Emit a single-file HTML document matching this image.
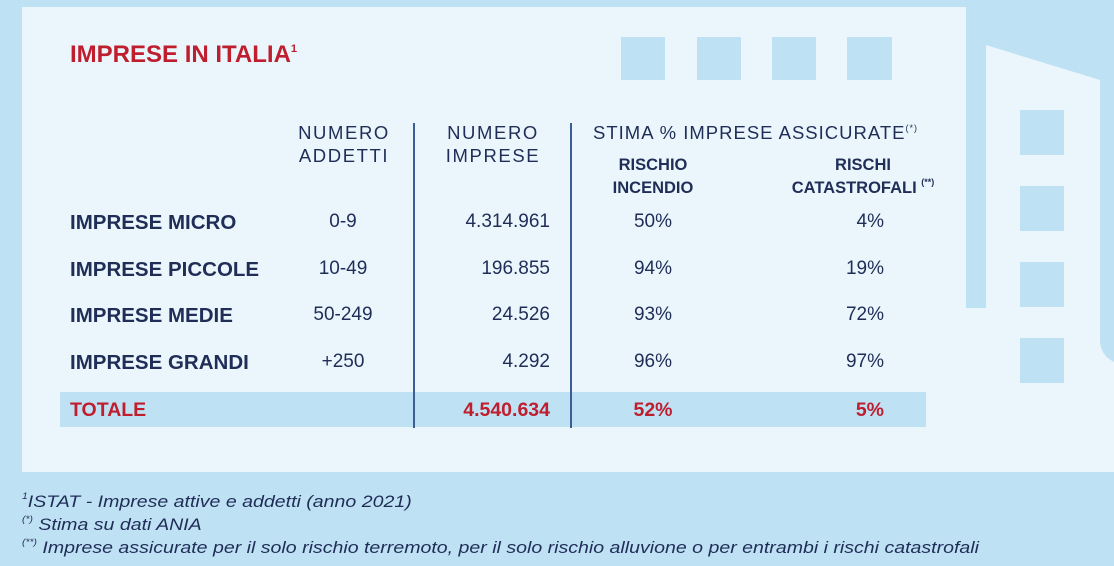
<!DOCTYPE html>
<html><head><meta charset="utf-8"><style>
*{margin:0;padding:0;box-sizing:border-box}
body{width:1114px;height:566px;background:#bfe1f4;position:relative;overflow:hidden;font-family:"Liberation Sans",sans-serif;color:#1f2d57}
.a{position:absolute;white-space:nowrap}
.w{position:absolute;background:#bfe1f4}
.h{font-size:18.5px;letter-spacing:1.6px;line-height:23px}
.b{font-weight:bold;font-size:20.5px}
.v{font-size:19px}
.r{color:#bf1e2e;font-weight:bold;font-size:19.5px}
.f{font-style:italic;font-size:17px;transform:scaleX(1.15);transform-origin:left}
sup{font-size:9px;position:relative;top:-8px;vertical-align:baseline;line-height:0}
</style></head><body>
<div class="a" style="left:22px;top:7px;width:944px;height:465px;background:#eaf6fc"></div>
<svg class="a" style="left:0;top:0" width="1114" height="566"><path d="M986,45 L1100,80 L1100,340 Q1100,355 1114,362 L1114,472 L966,472 L966,308 L986,308 Z" fill="#eaf6fc"/></svg>
<div class="w" style="left:621px;top:37px;width:44px;height:43px"></div>
<div class="w" style="left:697px;top:37px;width:44px;height:43px"></div>
<div class="w" style="left:772px;top:37px;width:44px;height:43px"></div>
<div class="w" style="left:847px;top:37px;width:45px;height:43px"></div>
<div class="w" style="left:1020px;top:110px;width:44px;height:45px"></div>
<div class="w" style="left:1020px;top:186px;width:44px;height:45px"></div>
<div class="w" style="left:1020px;top:262px;width:44px;height:45px"></div>
<div class="w" style="left:1020px;top:338px;width:44px;height:45px"></div>
<div class="a" style="left:60px;top:392px;width:866px;height:35px;background:#bfe1f4"></div>
<div class="a" style="left:413px;top:123px;width:2px;height:305px;background:#3b5f93"></div>
<div class="a" style="left:570px;top:123px;width:2px;height:305px;background:#3b5f93"></div>
<div class="a" style="left:70px;top:41px;font-size:24px;font-weight:bold;color:#bf1e2e">IMPRESE IN ITALIA<sup style="font-size:11px;top:-10px">1</sup></div>
<div class="a h" style="left:290px;top:121px;width:108px;text-align:center">NUMERO<br>ADDETTI</div>
<div class="a h" style="left:437px;top:121px;width:112px;text-align:center">NUMERO<br>IMPRESE</div>
<div class="a h" style="left:593px;top:121px;letter-spacing:1px">STIMA % IMPRESE ASSICURATE<sup>(*)</sup></div>
<div class="a" style="left:593px;top:154px;width:120px;text-align:center;font-weight:bold;font-size:16.5px;line-height:23px">RISCHIO<br>INCENDIO</div>
<div class="a" style="left:778px;top:154px;width:170px;text-align:center;font-weight:bold;font-size:16.5px;line-height:23px">RISCHI<br>CATASTROFALI <sup>(**)</sup></div>
<div class="a b" style="left:70px;top:211px">IMPRESE MICRO</div>
<div class="a b" style="left:70px;top:258px">IMPRESE PICCOLE</div>
<div class="a b" style="left:70px;top:304px">IMPRESE MEDIE</div>
<div class="a b" style="left:70px;top:351px">IMPRESE GRANDI</div>
<div class="a r" style="left:70px;top:399px">TOTALE</div>
<div class="a v" style="left:283px;top:211px;width:120px;text-align:center">0-9</div>
<div class="a v" style="left:283px;top:258px;width:120px;text-align:center">10-49</div>
<div class="a v" style="left:283px;top:304px;width:120px;text-align:center">50-249</div>
<div class="a v" style="left:283px;top:351px;width:120px;text-align:center">+250</div>
<div class="a v" style="left:420px;top:211px;width:130px;text-align:right">4.314.961</div>
<div class="a v" style="left:420px;top:258px;width:130px;text-align:right">196.855</div>
<div class="a v" style="left:420px;top:304px;width:130px;text-align:right">24.526</div>
<div class="a v" style="left:420px;top:351px;width:130px;text-align:right">4.292</div>
<div class="a r" style="left:420px;top:399px;width:130px;text-align:right">4.540.634</div>
<div class="a v" style="left:603px;top:211px;width:100px;text-align:center">50%</div>
<div class="a v" style="left:603px;top:258px;width:100px;text-align:center">94%</div>
<div class="a v" style="left:603px;top:304px;width:100px;text-align:center">93%</div>
<div class="a v" style="left:603px;top:351px;width:100px;text-align:center">96%</div>
<div class="a r" style="left:603px;top:399px;width:100px;text-align:center">52%</div>
<div class="a v" style="left:784px;top:211px;width:100px;text-align:right">4%</div>
<div class="a v" style="left:784px;top:258px;width:100px;text-align:right">19%</div>
<div class="a v" style="left:784px;top:304px;width:100px;text-align:right">72%</div>
<div class="a v" style="left:784px;top:351px;width:100px;text-align:right">97%</div>
<div class="a r" style="left:784px;top:399px;width:100px;text-align:right">5%</div>
<div class="a f" style="left:22px;top:492px"><sup>1</sup>ISTAT - Imprese attive e addetti (anno 2021)</div>
<div class="a f" style="left:22px;top:515px"><sup>(*)</sup> Stima su dati ANIA</div>
<div class="a f" style="left:22px;top:538px"><sup>(**)</sup> Imprese assicurate per il solo rischio terremoto, per il solo rischio alluvione o per entrambi i rischi catastrofali</div>
</body></html>
